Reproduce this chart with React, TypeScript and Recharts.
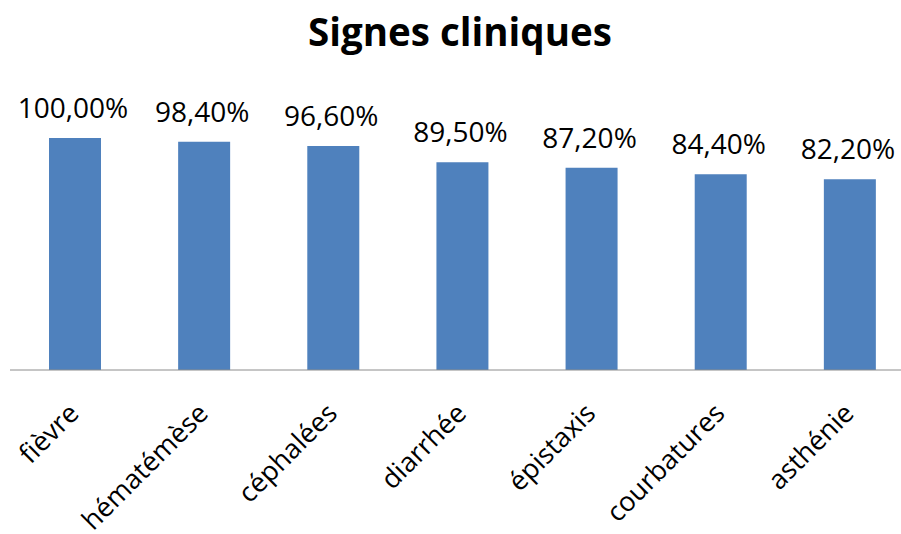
import React from "react";
import { BarChart, Bar, XAxis, YAxis, LabelList } from "recharts";

const categories = ["fièvre", "hématémèse", "céphalées", "diarrhée", "épistaxis", "courbatures", "asthénie"];
const values = [100, 98.4, 96.6, 89.5, 87.2, 84.4, 82.2];
const valueLabels = ["100,00%", "98,40%", "96,60%", "89,50%", "87,20%", "84,40%", "82,20%"];

const data = categories.map((c, i) => ({ name: c, value: values[i], label: valueLabels[i] }));

const FONT = "'Open Sans', sans-serif";

const CatTick = (props: any) => {
  const { x, y, payload } = props;
  const ax = x + 6;
  const ay = y + 37;
  return (
    <text
      x={ax}
      y={ay}
      transform={`rotate(-45, ${ax}, ${ay})`}
      textAnchor="end"
      fontFamily={FONT}
      fontSize={27}
      fill="#000"
    >
      {payload.value}
    </text>
  );
};

const ValueLabel = (props: any) => {
  const { x, y, width, index } = props;
  return (
    <text
      x={x + width / 2 - 2}
      y={y - 20}
      textAnchor="middle"
      fontFamily={FONT}
      fontSize={28}
      fill="#000"
    >
      {valueLabels[index]}
    </text>
  );
};

export default function App() {
  return (
    <div style={{ position: "absolute", left: 0, top: 0, width: 901, height: 534, overflow: "hidden", background: "#fff" }}>
      <svg style={{ position: "absolute", left: 0, top: 0 }} width={901} height={60}>
        <text x={460} y={46} textAnchor="middle" fontFamily={FONT} fontWeight="bold" fontSize={38.5} fill="#000">
          Signes cliniques
        </text>
      </svg>
      <div style={{ position: "absolute", left: 0, top: 0 }}>
        <BarChart width={914} height={534} data={data} margin={{ top: 138, right: 0, bottom: 0, left: 10 }} barCategoryGap={0}>
          <XAxis
            dataKey="name"
            height={164}
            tickLine={false}
            axisLine={{ stroke: "#8c8c8c", strokeWidth: 1 }}
            interval={0}
            tick={<CatTick />}
          />
          <YAxis hide domain={[0, 100]} />
          <Bar dataKey="value" fill="#4F81BD" barSize={52} isAnimationActive={false}>
            <LabelList dataKey="label" content={<ValueLabel />} />
          </Bar>
        </BarChart>
      </div>
    </div>
  );
}
